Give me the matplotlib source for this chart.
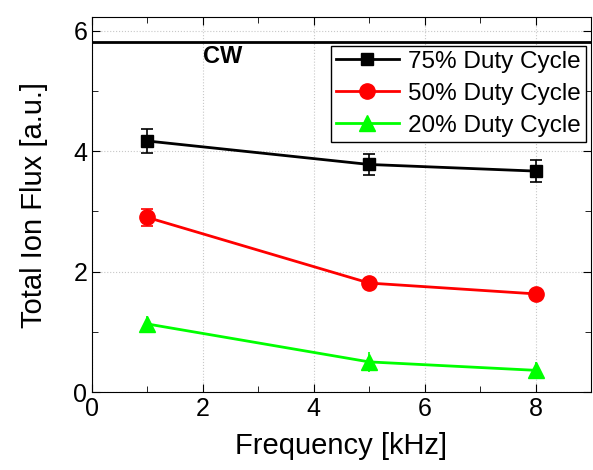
import matplotlib
matplotlib.use("Agg")
from matplotlib import pyplot as plt
from matplotlib.ticker import MultipleLocator

plt.rcParams['font.family'] = ['Liberation Sans', 'DejaVu Sans']

# Частоты и потоки
freq = [1, 5, 8]
flux_75 = [4.17, 3.78, 3.67]
err_75 = [0.2, 0.18, 0.18]
flux_50 = [2.90, 1.81, 1.63]
err_50 = [0.14, 0.06, 0.06]
flux_20 = [1.13, 0.50, 0.36]
err_20 = [0.14, 0.16, 0.14]
cw_level = 5.81

fig = plt.figure(figsize=(5.93, 4.70), dpi=100)
ax = fig.add_axes([92 / 593, 78 / 470, 499 / 593, 375 / 470])

ax.axhline(cw_level, color="black", lw=2)
ax.text(2.0, 5.57, "CW", fontsize=17, fontweight="bold", va="center", ha="left")

series = [
    (flux_75, err_75, "black", "s", 9, 4, "75% Duty Cycle"),
    (flux_50, err_50, "#ff0000", "o", 11, 4, "50% Duty Cycle"),
    (flux_20, err_20, "#00ff00", "^", 11, 0, "20% Duty Cycle"),
]
for vals, errs, col, mk, ms, cap, lab in series:
    ax.errorbar(freq, vals, yerr=errs, fmt="none", ecolor=col, elinewidth=1.2,
                capsize=cap, capthick=1.2)
    ax.plot(freq, vals, color=col, marker=mk, ms=ms, lw=2, label=lab)

ax.set_xlim(0, 9)
ax.set_ylim(0, 6.23)
ax.xaxis.set_major_locator(MultipleLocator(2))
ax.xaxis.set_minor_locator(MultipleLocator(1))
ax.yaxis.set_major_locator(MultipleLocator(2))
ax.yaxis.set_minor_locator(MultipleLocator(1))
ax.tick_params(which="both", direction="in", top=True, right=True, labelsize=18)
ax.tick_params(which="major", length=6)
ax.tick_params(which="minor", length=4)
ax.grid(True, which="major", color="#c8c8c8", ls=":", lw=0.8)

ax.set_xlabel("Frequency [kHz]", fontsize=21, labelpad=8)
ax.set_ylabel("Total Ion Flux [a.u.]", fontsize=21, labelpad=18)

leg = ax.legend(loc="upper right", bbox_to_anchor=(0.995, 0.93), fontsize=17.5,
                frameon=True, fancybox=False, edgecolor="black", framealpha=1,
                borderpad=0.2, labelspacing=0.42, handlelength=2.6,
                handletextpad=0.4, borderaxespad=0.1)
leg.get_frame().set_linewidth(1)

fig.savefig("out.png", dpi=100)
